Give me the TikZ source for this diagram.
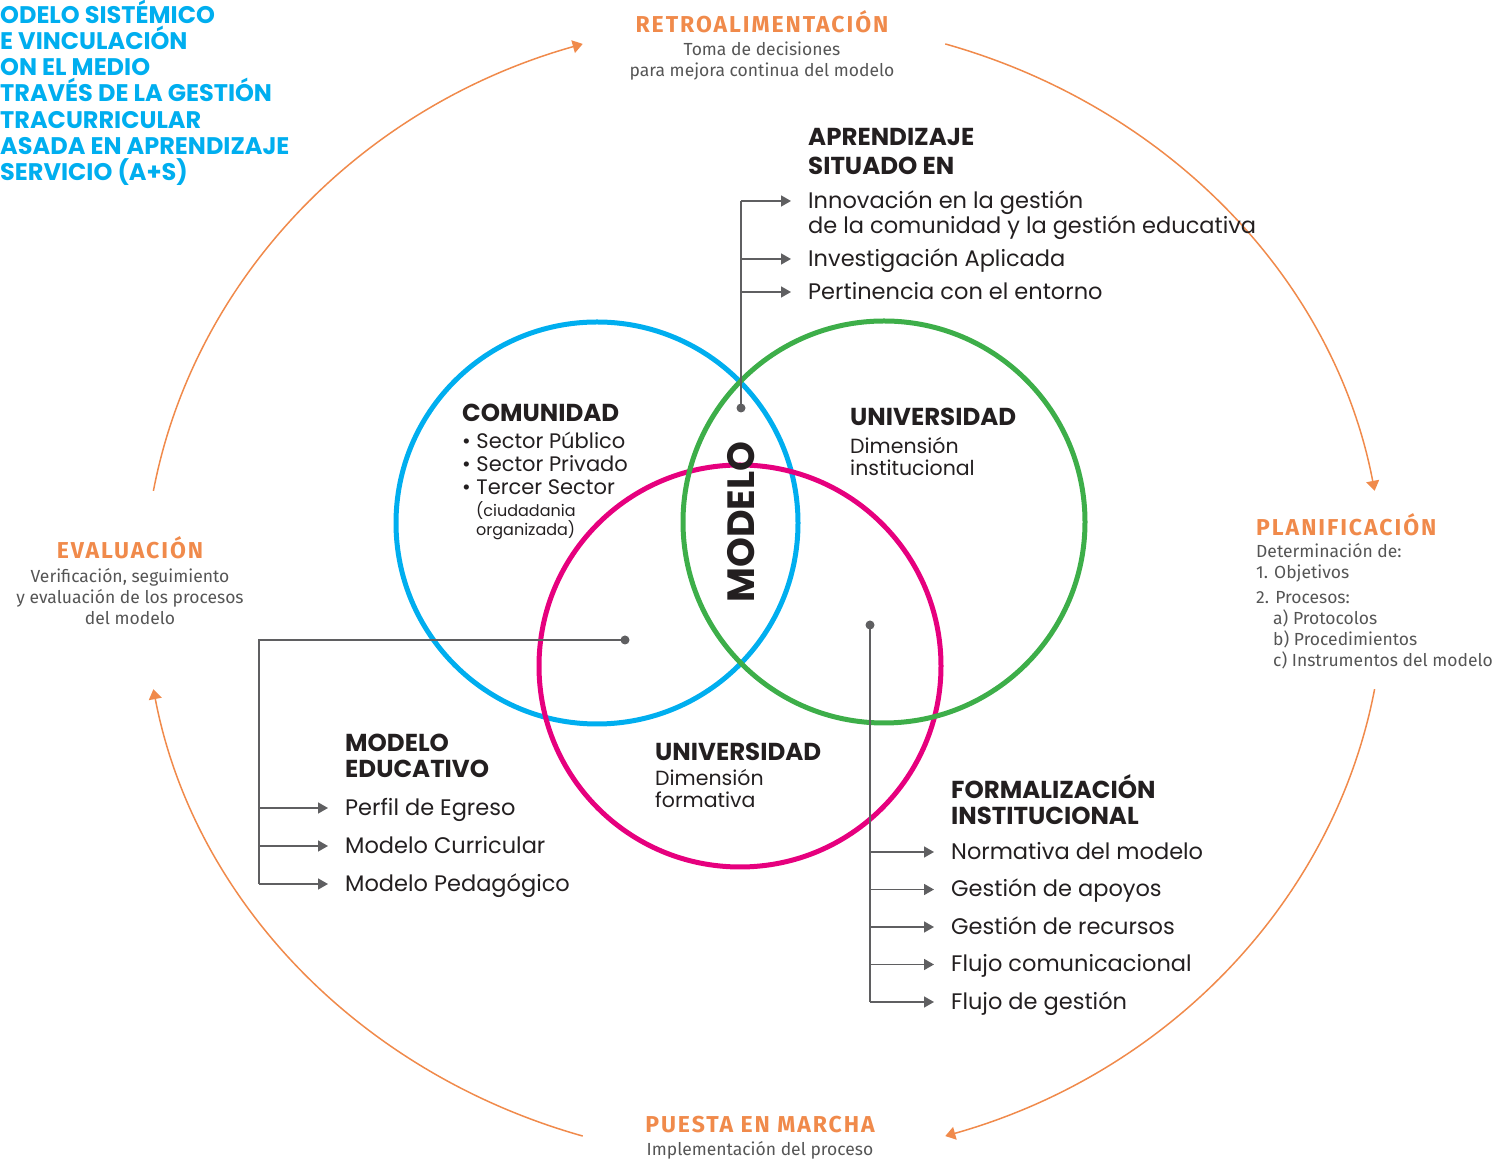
\documentclass[tikz,border=0pt]{standalone}
\usepackage{fontspec}
\setmainfont{Fira Sans}
\newfontfamily\geo{Poppins}
\newfontfamily\fasefont{Fira Sans}[LetterSpace=8.5]
\usetikzlibrary{arrows.meta,calc,positioning}
\definecolor{naranja}{RGB}{240,138,75}
\definecolor{celeste}{RGB}{0,174,239}
\definecolor{verde}{RGB}{61,174,73}
\definecolor{fucsia}{RGB}{230,0,126}
\definecolor{tinta}{RGB}{35,31,32}
\definecolor{gris}{RGB}{85,85,85}
\definecolor{linea}{RGB}{95,95,97}

\begin{document}
\begin{tikzpicture}[x=1pt,y=1pt,
    ciclo/.style={naranja,line width=1.5pt,-{Triangle[width=13pt,length=10pt]}},
    fase/.style={font=\fasefont\bfseries\fontsize{23}{26}\selectfont,text=naranja,inner sep=0pt},
    fasetxt/.style={font=\fontsize{17.5}{21}\selectfont,text=gris,inner sep=0pt},
    aro/.style={circle,line width=5pt,minimum size=402pt,inner sep=0pt},
    rama/.style={linea,line width=1.6pt},
    flecha/.style={rama,-{Triangle[width=11pt,length=10pt]}},
    titulo/.style={font=\geo\bfseries\fontsize{24.5}{26}\selectfont,text=tinta,align=left,inner sep=0pt,anchor=north west},
    texto/.style={font=\geo\fontsize{20.5}{22}\selectfont,text=tinta,align=left,inner sep=0pt,anchor=north west},
    item/.style={font=\geo\fontsize{22.5}{25}\selectfont,text=tinta,inner sep=0pt,anchor=west,text height=1.45em,text depth=0pt},
    punto/.style={circle,fill=linea,inner sep=0pt,minimum size=9pt}]
\useasboundingbox (0,0) rectangle (1499,1159);

% titulo cortado por el borde
\node[titulo,text=celeste,font=\geo\bfseries\fontsize{24}{26.1}\selectfont] (titulo) at (0,1159)
  {ODELO SISTÉMICO\\E VINCULACIÓN\\ON EL MEDIO\\TRAVÉS DE LA GESTIÓN\\TRACURRICULAR\\ASADA EN APRENDIZAJE\\SERVICIO (A+S)};

% ciclo de gestion
\coordinate (centro) at (764,569);
\foreach \a/\b in {170/107,73/10,-10/-73,-107/-170}
  \draw[ciclo] ($(centro)+(\a:620 and 571)$) arc[start angle=\a,end angle=\b,x radius=620,y radius=571];

\node[fase] (retro) at (762,1137) {RETROALIMENTACIÓN};
\node[fasetxt,align=center,below=8pt of retro] (retro-t) {Toma de decisiones\\para mejora continua del modelo};
\node[fase,anchor=west] (plan) at (1256,634) {PLANIFICACIÓN};
\node[fasetxt,align=left,below right=7pt and 0pt of plan.south west] (plan-t)
  {Determinación de:\\1. Objetivos\\[4pt]2. Procesos:\\\hspace*{17pt}a) Protocolos\\\hspace*{17pt}b) Procedimientos\\\hspace*{17pt}c) Instrumentos del modelo};
\node[fase] (eval) at (130,611) {EVALUACIÓN};
\node[fasetxt,align=center,below=9pt of eval] (eval-t) {Verificación, seguimiento\\y evaluación de los procesos\\del modelo};
\node[fase] (puesta) at (760,34) {PUESTA EN MARCHA};
\node[fasetxt,below=8pt of puesta] (puesta-t) {Implementación del proceso};

% los tres circulos
\node[aro,draw=celeste] (C-com) at (597,636) {};
\node[aro,draw=fucsia] (C-for) at (740,493) {};
\node[aro,draw=verde] (C-ins) at (884,637) {};

\node[rotate=90,font=\geo\bfseries\fontsize{38}{40}\selectfont,text=tinta,inner sep=0pt] (modelo) at (741,637) {MODELO};

\node[titulo] (com) at (462,755) {COMUNIDAD};
\node[texto,font=\geo\fontsize{21}{23}\selectfont,below=10pt of com.south west,anchor=north west] (com-t)
  {\textbullet\ Sector Público\\\textbullet\ Sector Privado\\\textbullet\ Tercer Sector};
\node[texto,font=\geo\fontsize{16}{19}\selectfont,below right=6pt and 14pt of com-t.south west] (com-n) {(ciudadania\\organizada)};

\node[titulo] (ins) at (850,751) {UNIVERSIDAD};
\node[texto,below=11pt of ins.south west,anchor=north west] (ins-t) {Dimensión\\institucional};
\node[titulo] (for) at (655,416) {UNIVERSIDAD};
\node[texto,below=8pt of for.south west,anchor=north west] (for-t) {Dimensión\\formativa};

% aprendizaje situado
\node[titulo,font=\geo\bfseries\fontsize{24.5}{29}\selectfont] (apr) at (808,1031) {APRENDIZAJE\\SITUADO EN};
\node[texto,font=\geo\fontsize{22.5}{25}\selectfont] (A-1) at (808,968) {Innovación en la gestión\\de la comunidad y la gestión educativa};
\node[item] (A-2) at (808,900) {Investigación Aplicada};
\node[item] (A-3) at (808,867) {Pertinencia con el entorno};
\node[punto] (dotA) at (741,751) {};
\coordinate (codoA) at (741,958);
\draw[rama] (dotA.center) -- (codoA);
\draw[flecha] (codoA) -- ([xshift=-17pt]codoA -| A-1.west);
\foreach \i in {2,3}
  \draw[flecha] (codoA |- A-\i.west) -- ([xshift=-17pt]A-\i.west);

% modelo educativo
\node[titulo] (edu) at (345,425) {MODELO\\EDUCATIVO};
\foreach \T [count=\i] in {Perfil de Egreso,Modelo Curricular,Modelo Pedagógico}
  \node[item] (E-\i) at (345,{351-(\i-1)*38}) {\T};
\node[punto] (dotE) at (625,519) {};
\coordinate (codoE) at (259,519);
\draw[rama] (dotE.center) -- (codoE) -- (codoE |- E-3.west);
\foreach \i in {1,2,3}
  \draw[flecha] (codoE |- E-\i.west) -- ([xshift=-17pt]E-\i.west);

% formalizacion institucional
\node[titulo] (form) at (951,385) {FORMALIZACIÓN\\INSTITUCIONAL};
\foreach \T [count=\i] in {Normativa del modelo,Gestión de apoyos,Gestión de recursos,Flujo comunicacional,Flujo de gestión}
  \node[item] (F-\i) at (951,{307-(\i-1)*37.5}) {\T};
\node[punto] (dotF) at (870,534) {};
\draw[rama] (dotF.center) -- (dotF |- F-5.west);
\foreach \i in {1,...,5}
  \draw[flecha] (dotF |- F-\i.west) -- ([xshift=-17pt]F-\i.west);
\end{tikzpicture}
\end{document}
